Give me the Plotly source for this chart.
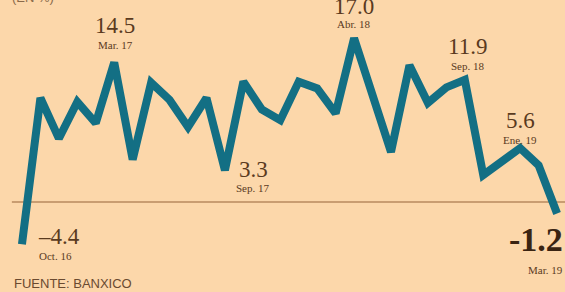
import plotly.graph_objects as go

months = ["Oct 16", "Nov 16", "Dic 16",
          "Ene 17", "Feb 17", "Mar 17", "Abr 17", "May 17", "Jun 17",
          "Jul 17", "Ago 17", "Sep 17", "Oct 17", "Nov 17", "Dic 17",
          "Ene 18", "Feb 18", "Mar 18", "Abr 18", "May 18", "Jun 18",
          "Jul 18", "Ago 18", "Sep 18", "Oct 18", "Nov 18", "Dic 18",
          "Ene 19", "Feb 19", "Mar 19"]
values = [-4.4, 10.8, 6.6, 10.4, 8.2, 14.5, 4.4, 12.4, 10.6, 7.8,
          10.8, 3.3, 12.5, 9.6, 8.5, 12.5, 11.8, 9.2, 17.0, 11.0,
          5.2, 14.2, 10.3, 11.9, 12.7, 2.8, 4.3, 5.6, 3.8, -1.2]

BG = "#FCD7AA"
LINE = "#136F84"
TXT = "#5A3A1E"
SERIF = "Liberation Serif, Times New Roman, serif"

fig = go.Figure()
fig.add_trace(go.Scatter(x=months, y=values, mode="lines",
                         line=dict(color=LINE, width=8),
                         hoverinfo="skip", showlegend=False))

fig.add_shape(type="line", xref="paper", yref="y", x0=0.021, x1=1, y0=0, y1=0,
              line=dict(color="#B98A5E", width=1.5), layer="below")

idx = {m: i for i, m in enumerate(months)}
ann = []

# peak labels: (anchor month, value text, date text, date yshift, value yshift, xshift)
peaks = [("Mar 17", "14.5", "Mar. 17", 9, 22, 1),
         ("Abr 18", "17.0", "Abr. 18", 6, 17, 0),
         ("Oct 18", "11.9", "Sep. 18", 6, 19, 3),
         ("Ene 19", "5.6", "Ene. 19", 0, 13, 0)]
for m, vt, dt, dy, vy, dx in peaks:
    v = values[idx[m]]
    ann.append(dict(x=m, y=v, text=dt, showarrow=False, yanchor="bottom",
                    yshift=dy, xshift=dx, font=dict(family=SERIF, size=11, color=TXT)))
    ann.append(dict(x=m, y=v, text=vt, showarrow=False, yanchor="bottom",
                    yshift=vy, xshift=dx, font=dict(family=SERIF, size=23, color=TXT)))

# Sep 17 label right of dip
ann.append(dict(x="Sep 17", y=values[idx["Sep 17"]], text="3.3", showarrow=False,
                xanchor="left", yanchor="middle", xshift=12, yshift=1,
                font=dict(family=SERIF, size=23, color=TXT)))
ann.append(dict(x="Sep 17", y=values[idx["Sep 17"]], text="Sep. 17", showarrow=False,
                xanchor="left", yanchor="middle", xshift=9, yshift=-18,
                font=dict(family=SERIF, size=11, color=TXT)))

# Oct 16
ann.append(dict(x="Oct 16", y=values[0], text="\u20134.4", showarrow=False,
                xanchor="left", yanchor="middle", xshift=14, yshift=8,
                font=dict(family=SERIF, size=23, color=TXT)))
ann.append(dict(x="Oct 16", y=values[0], text="Oct. 16", showarrow=False,
                xanchor="left", yanchor="middle", xshift=15, yshift=-12,
                font=dict(family=SERIF, size=11, color=TXT)))

# Mar 19
ann.append(dict(x="Mar 19", y=values[-1], text="<b>-1.2</b>", showarrow=False,
                xanchor="right", yanchor="middle", xshift=8, yshift=-26,
                font=dict(family=SERIF, size=34, color="#3A2412")))
ann.append(dict(x="Mar 19", y=values[-1], text="Mar. 19", showarrow=False,
                xanchor="right", yanchor="middle", xshift=8, yshift=-56,
                font=dict(family=SERIF, size=11, color=TXT)))

ann.append(dict(xref="paper", yref="paper", x=0.022, y=0.03, text="FUENTE: BANXICO",
                showarrow=False, xanchor="left", yanchor="middle",
                font=dict(family="Liberation Sans, Arial, sans-serif", size=13, color="#6A4A30")))

ann.append(dict(xref="paper", yref="paper", x=0.018, y=1, text="(EN %)",
                showarrow=False, xanchor="left", yanchor="bottom", yshift=-7,
                font=dict(family="Liberation Sans, Arial, sans-serif", size=13, color="#8A6A4A")))

fig.update_layout(
    width=565, height=292,
    margin=dict(l=0, r=0, t=0, b=0),
    paper_bgcolor=BG, plot_bgcolor=BG,
    annotations=ann,
    xaxis=dict(type="category", range=[-1.19, 29.43], visible=False, fixedrange=True),
    yaxis=dict(range=[-9.35, 20.98], visible=False, fixedrange=True),
)

fig.write_html("out.html", config={"displayModeBar": False},
               post_script="document.body.style.margin='0';document.body.style.overflow='hidden';")
